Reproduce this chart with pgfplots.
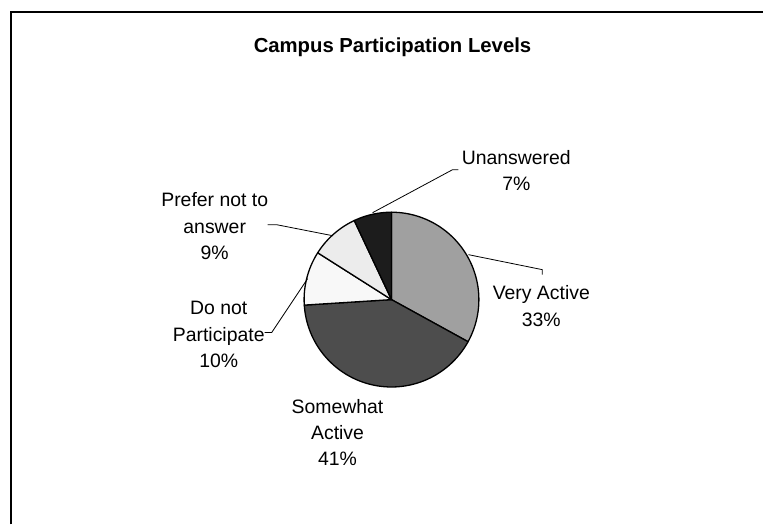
\documentclass[border=0pt]{standalone}
\usepackage{pgfplots}
\pgfplotsset{compat=1.18}
\usepackage{fontspec}
\setmainfont{Liberation Sans}
\definecolor{cVA}{RGB}{160,160,160}
\definecolor{cSA}{RGB}{77,77,77}
\definecolor{cDN}{RGB}{248,248,248}
\definecolor{cPN}{RGB}{236,236,236}
\definecolor{cUN}{RGB}{28,28,28}
\tikzset{lbl/.style={font=\fontsize{19.5}{26.5}\selectfont, align=center, inner sep=0pt, text=black, anchor=center}}
% shares (percent), clockwise from 12 o'clock
\def\vA{33}\def\vB{41}\def\vC{10}\def\vD{9}\def\vE{7}
\pgfmathsetmacro\aA{90}
\pgfmathsetmacro\aB{\aA-3.6*\vA}
\pgfmathsetmacro\aC{\aB-3.6*\vB}
\pgfmathsetmacro\aD{\aC-3.6*\vC}
\pgfmathsetmacro\aE{\aD-3.6*\vD}
\pgfmathsetmacro\aF{\aE-3.6*\vE}
\def\cx{392}\def\cy{225}\def\rr{87.5}
\begin{document}
\begin{tikzpicture}
\begin{axis}[
  width=764bp, height=525bp, scale only axis,
  xmin=0, xmax=764, ymin=0, ymax=525,
  hide axis, clip=false,
]
\path (axis cs:0,0) rectangle (axis cs:764,525);
% chart frame (cropped at right and bottom)
\addplot[black, line width=2bp, line join=miter] coordinates {(11,0) (11,513) (764,513)};
% slices
\addplot[draw=black, line width=1.3bp, fill=cVA, domain=\aB:\aA, samples=80, line join=round] ({\cx+\rr*cos(x)}, {\cy+\rr*sin(x)}) -- (\cx,\cy) -- cycle;
\addplot[draw=black, line width=1.3bp, fill=cSA, domain=\aC:\aB, samples=80, line join=round] ({\cx+\rr*cos(x)}, {\cy+\rr*sin(x)}) -- (\cx,\cy) -- cycle;
\addplot[draw=black, line width=1.3bp, fill=cDN, domain=\aD:\aC, samples=40, line join=round] ({\cx+\rr*cos(x)}, {\cy+\rr*sin(x)}) -- (\cx,\cy) -- cycle;
\addplot[draw=black, line width=1.3bp, fill=cPN, domain=\aE:\aD, samples=40, line join=round] ({\cx+\rr*cos(x)}, {\cy+\rr*sin(x)}) -- (\cx,\cy) -- cycle;
\addplot[draw=black, line width=1.3bp, fill=cUN, domain=\aF:\aE, samples=40, line join=round] ({\cx+\rr*cos(x)}, {\cy+\rr*sin(x)}) -- (\cx,\cy) -- cycle;
% leader lines
\addplot[black, line width=0.8bp] coordinates {(459,355) (453,355) (373,312)};
\addplot[black, line width=0.8bp] coordinates {(268,300) (277,300) (333,289)};
\addplot[black, line width=0.8bp] coordinates {(469,270) (543,255) (543,250)};
\addplot[black, line width=0.8bp] coordinates {(265,192) (272,192) (308,246)};
% labels
\node[lbl, font=\fontsize{20.4}{24}\selectfont\bfseries] at (axis cs:393,478) {Campus Participation Levels};
\node[lbl] at (axis cs:517,354) {Unanswered\\7\%};
\node[lbl] at (axis cs:215,298.5) {Prefer not to\\answer\\9\%};
\node[lbl] at (axis cs:542,218.5) {Very Active\\33\%};
\node[lbl] at (axis cs:219,190) {Do not\\Participate\\10\%};
\node[lbl] at (axis cs:338,92) {Somewhat\\Active\\41\%};
\end{axis}
\end{tikzpicture}
\end{document}
